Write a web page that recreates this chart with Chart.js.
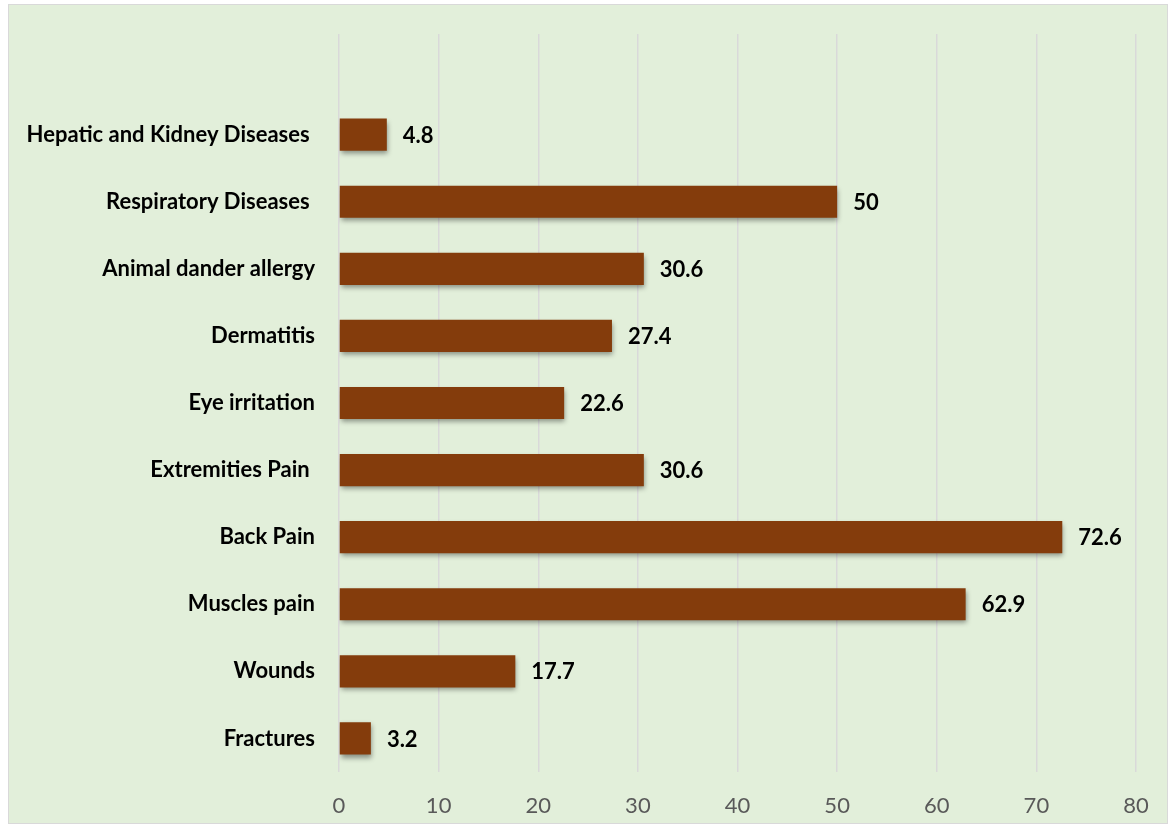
<!DOCTYPE html>
<html>
<head>
<meta charset="utf-8">
<script src="https://cdn.jsdelivr.net/npm/chart.js@4.4.1/dist/chart.umd.min.js"></script>
<style>
    html, body { margin: 0; padding: 0; background: #ffffff; }
    #quadro {
        position: absolute;
        left: 8px; top: 4px;
        width: 1158px; height: 818px;
        background: #e2efda;
        border: 1px solid #d9d9d9;
    }
    #grafico { display: block; }
</style>
</head>
<body>
<div id="quadro">
    <canvas id="grafico" width="1158" height="818"></canvas>
</div>
<script>
// categorias de cima para baixo
const categorias = [
    'Hepatic and Kidney Diseases ',
    'Respiratory Diseases ',
    'Animal dander allergy',
    'Dermatitis',
    'Eye irritation',
    'Extremities Pain ',
    'Back Pain',
    'Muscles pain',
    'Wounds',
    'Fractures'
];
const valores = [4.8, 50, 30.6, 27.4, 22.6, 30.6, 72.6, 62.9, 17.7, 3.2];
const ticksX = [0, 10, 20, 30, 40, 50, 60, 70, 80];

const fonte = 'Lato, "Open Sans", sans-serif';

// o Excel deixa uma categoria vazia no topo
const rotulos = [''].concat(categorias);
const dados = [null].concat(valores);

const sombraBarras = {
    id: 'sombraBarras',
    beforeDatasetsDraw(chart) {
        const ctx = chart.ctx;
        ctx.save();
        ctx.shadowColor = 'rgba(0, 0, 0, 0.4)';
        ctx.shadowBlur = 5;
        ctx.shadowOffsetX = 1;
        ctx.shadowOffsetY = 3;
    },
    afterDatasetsDraw(chart) {
        chart.ctx.restore();
    }
};

const rotulosValores = {
    id: 'rotulosValores',
    afterDatasetsDraw(chart) {
        const ctx = chart.ctx;
        const meta = chart.getDatasetMeta(0);
        ctx.save();
        ctx.font = 'bold 22px ' + fonte;
        ctx.fillStyle = '#000000';
        ctx.textAlign = 'left';
        ctx.textBaseline = 'middle';
        meta.data.forEach((barra, i) => {
            const v = dados[i];
            if (v === null) return;
            ctx.fillText(String(v), barra.x + 16, barra.y + 1);
        });
        ctx.restore();
    }
};

function semMargem(scale) {
    scale.paddingTop = 0;
    scale.paddingBottom = 0;
    scale.paddingLeft = 0;
    scale.paddingRight = 0;
}

new Chart(document.getElementById('grafico'), {
    type: 'bar',
    data: {
        labels: rotulos,
        datasets: [{
            data: dados,
            backgroundColor: '#843c0c',
            borderWidth: 0,
            barPercentage: 0.6,
            categoryPercentage: 0.8
        }]
    },
    plugins: [sombraBarras, rotulosValores],
    options: {
        indexAxis: 'y',
        responsive: false,
        animation: false,
        layout: { padding: { left: 0, right: 31, top: 29, bottom: 0 } },
        plugins: {
            legend: { display: false },
            tooltip: { enabled: false }
        },
        scales: {
            x: {
                min: 0,
                max: 80,
                afterBuildTicks(scale) {
                    scale.ticks = ticksX.map(v => ({ value: v }));
                },
                afterFit(scale) {
                    scale.height = 51;
                    semMargem(scale);
                },
                grid: { color: '#d9d9d9', lineWidth: 1.5, drawTicks: false },
                border: { display: false },
                ticks: {
                    color: '#595959',
                    padding: 21,
                    font: { family: fonte, size: 22 }
                }
            },
            y: {
                afterFit(scale) {
                    scale.width = 330;
                    semMargem(scale);
                },
                grid: { display: false, drawTicks: false },
                border: { display: false },
                ticks: {
                    color: '#000000',
                    padding: 24,
                    font: { family: fonte, size: 22, weight: 'bold' }
                }
            }
        }
    }
});
</script>
</body>
</html>
